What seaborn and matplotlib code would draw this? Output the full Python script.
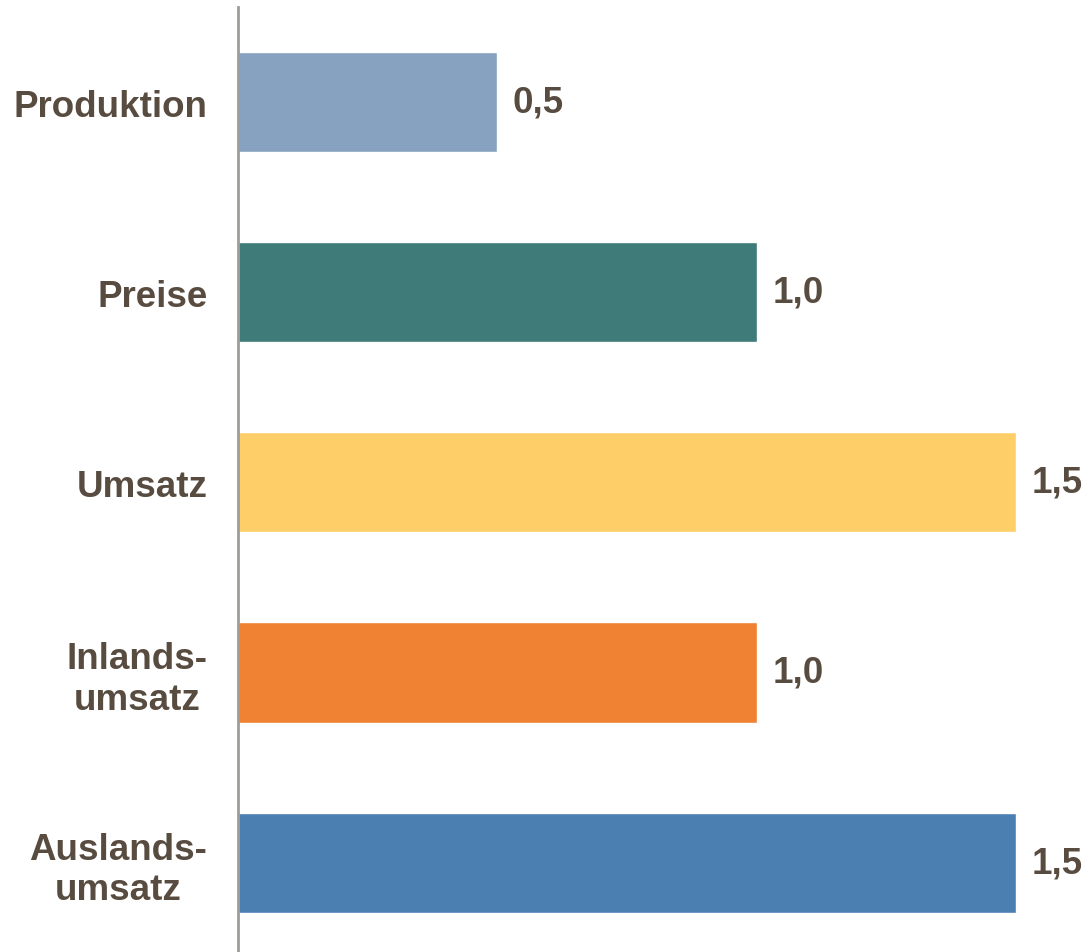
import matplotlib
matplotlib.use("Agg")
import matplotlib.pyplot as plt
import seaborn as sns
import pandas as pd

categories = ["Produktion", "Preise", "Umsatz", "Inlands-\numsatz", "Auslands-\numsatz"]
values = [0.5, 1.0, 1.5, 1.0, 1.5]
value_labels = ["0,5", "1,0", "1,5", "1,0", "1,5"]
colors = ["#87A2C0", "#3F7B78", "#FECF68", "#EF8233", "#4B7FB2"]

sns.set_theme(style="white")
plt.rcParams['font.family'] = ['Liberation Sans', 'DejaVu Sans']
text_color = "#584C40"

df = pd.DataFrame({"cat": categories, "val": values})

W, H = 1091, 953
fig = plt.figure(figsize=(W / 100, H / 100), dpi=100)
ax = fig.add_axes([238 / W, 0, 851 / W, 945 / H])

sns.barplot(data=df, y="cat", x="val", hue="cat", palette=colors, legend=False,
            orient="h", width=100 / 190, ax=ax, saturation=1)

ax.set_xlim(0, 1.64)
ax.set_ylim(4.47, -0.5)
ax.set_xlabel("")
ax.set_ylabel("")
ax.set_xticks([])
for s in ["top", "right", "bottom"]:
    ax.spines[s].set_visible(False)
ax.spines["left"].set_color("#A09C98")
ax.spines["left"].set_linewidth(2)

ax.tick_params(axis="y", length=0, pad=22)
for lbl in ax.get_yticklabels():
    lbl.set_fontsize(26.5)
    lbl.set_fontweight("bold")
    lbl.set_color(text_color)
    lbl.set_multialignment("center")
    lbl.set_linespacing(1.2)

for i, (v, t) in enumerate(zip(values, value_labels)):
    ax.annotate(t, xy=(v, i), xytext=(11, 0), textcoords="offset points",
                ha="left", va="center", fontsize=26.5, fontweight="bold",
                color=text_color, annotation_clip=False)

fig.savefig("out.png", dpi=100)
